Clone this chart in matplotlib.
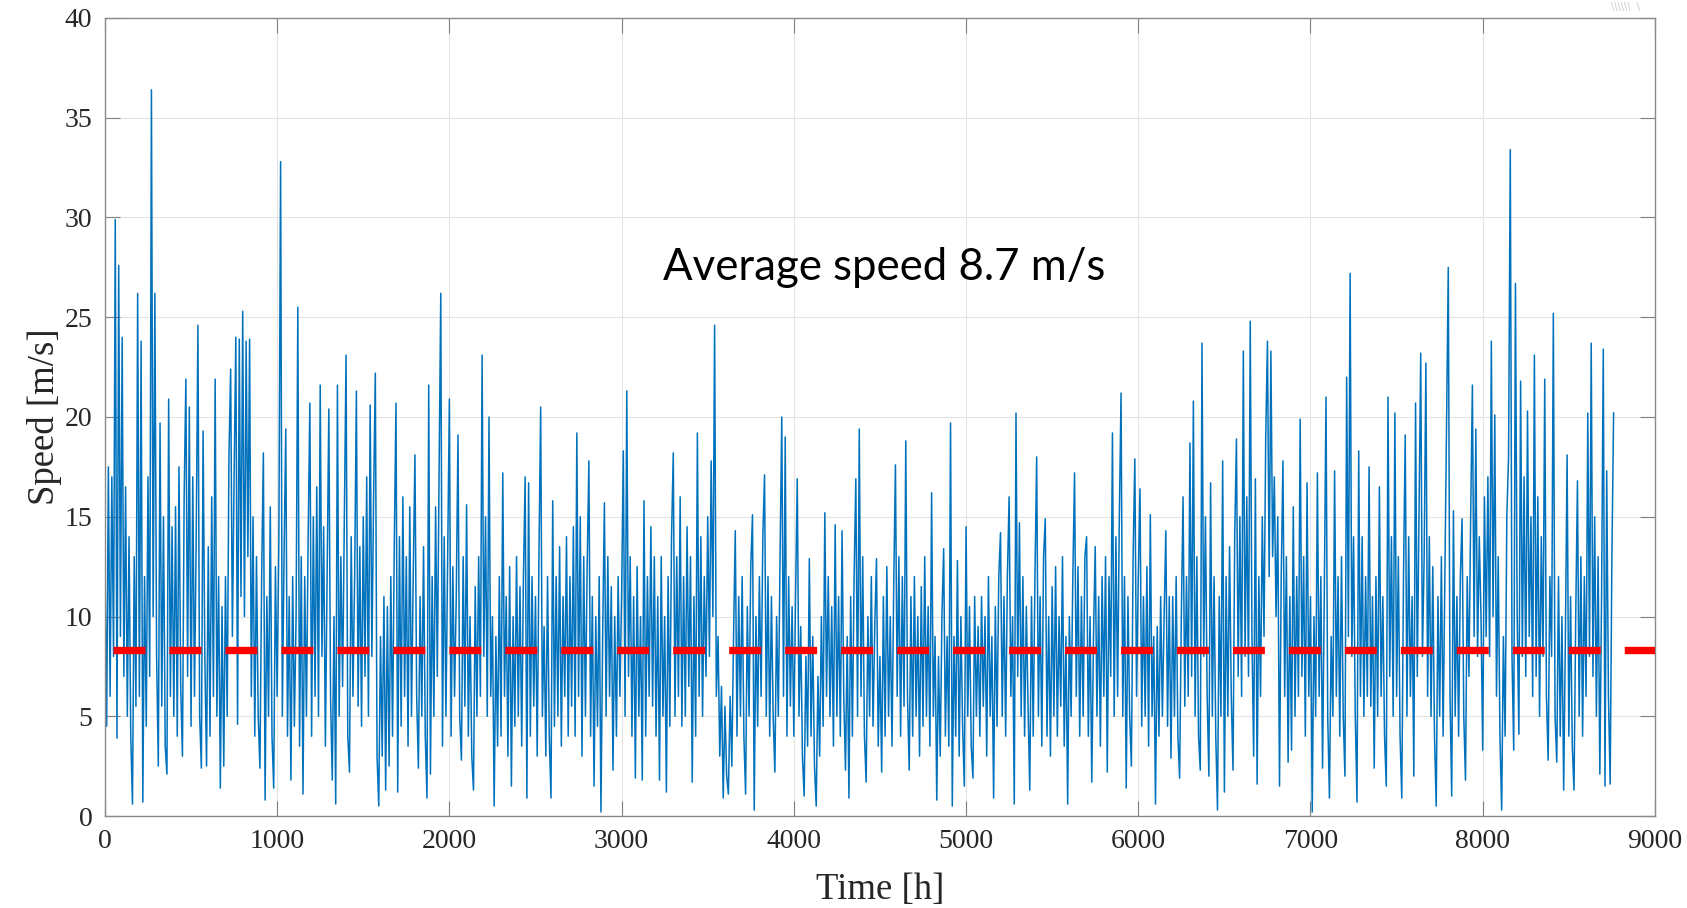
"""
Hourly wind speed over one year with the average shown as a dashed line.
Output: out.png
"""

import numpy as np
import matplotlib.pyplot as plt

plt.rcParams["lines.scale_dashes"] = False

# ── Data: wind speed [m/s], one reading every STEP_H hours ─────────────────────
STEP_H = 10
speed = [
    13.0, 4.5, 17.5, 6.0, 17.0, 8.0, 29.9, 3.9, 27.6, 9.0,      # 0
    24.0, 7.0, 16.5, 5.0, 14.0, 4.0, 0.6, 13.0, 5.5, 26.2,
    6.0, 23.8, 0.7, 12.0, 4.5, 17.0, 7.0, 36.4, 10.0, 26.2,
    8.0, 2.5, 19.7, 5.5, 15.0, 3.5, 2.1, 20.9, 6.0, 14.5,
    5.0, 15.5, 4.0, 17.5, 6.5, 3.0, 16.0, 21.9, 7.0, 20.5,
    4.5, 17.0, 6.0, 14.0, 24.6, 5.0, 2.4, 19.3, 8.0, 2.5,
    13.5, 4.0, 16.0, 6.0, 21.9, 5.0, 12.0, 1.4, 10.5, 2.5,
    12.0, 5.0, 18.0, 22.4, 9.0, 17.0, 24.0, 4.6, 23.9, 11.0,
    25.3, 10.0, 23.8, 13.0, 23.9, 6.0, 15.0, 4.0, 13.0, 5.0,
    2.4, 12.0, 18.2, 0.8, 11.0, 5.0, 15.5, 4.0, 1.4, 12.5,
    6.0, 14.0, 32.8, 5.0, 13.0, 19.4, 4.0, 11.0, 1.8, 12.0,     # 1000
    4.5, 10.0, 25.5, 3.5, 13.0, 1.1, 12.0, 5.0, 14.0, 20.7,
    4.0, 15.0, 6.0, 16.5, 5.0, 21.6, 8.0, 14.5, 3.5, 12.0,
    20.4, 6.0, 1.8, 10.0, 0.6, 21.6, 5.0, 13.0, 6.5, 15.0,
    23.1, 4.0, 2.2, 14.0, 6.0, 12.0, 21.3, 5.5, 13.5, 4.5,
    15.0, 7.0, 17.0, 5.0, 20.6, 8.0, 16.0, 22.2, 3.0, 0.5,
    9.0, 3.0, 11.0, 1.3, 10.5, 2.5, 12.0, 4.0, 13.5, 20.7,
    1.2, 14.0, 4.5, 16.0, 6.0, 13.0, 3.5, 15.5, 5.0, 12.0,
    18.1, 6.0, 2.4, 11.0, 5.0, 13.5, 4.0, 0.9, 21.6, 2.1,
    12.0, 5.0, 15.5, 7.0, 17.0, 26.2, 3.5, 14.0, 5.0, 13.0,
    20.9, 4.0, 12.5, 6.0, 11.0, 19.1, 5.0, 2.8, 13.0, 5.5,     # 2000
    15.6, 4.0, 10.0, 3.0, 1.3, 11.5, 5.0, 13.0, 6.0, 23.1,
    8.0, 15.0, 5.0, 20.0, 6.0, 10.0, 0.5, 9.0, 3.5, 12.0,
    4.0, 17.2, 6.0, 11.0, 3.0, 12.5, 1.5, 10.0, 4.5, 13.0,
    5.0, 11.5, 3.5, 12.0, 17.0, 0.9, 16.7, 4.0, 12.0, 5.5,
    11.0, 3.0, 13.0, 20.5, 5.0, 9.5, 3.0, 12.0, 4.0, 0.9,
    15.8, 4.5, 12.0, 5.0, 13.5, 3.5, 11.0, 6.0, 14.0, 4.0,
    12.0, 5.5, 14.5, 4.0, 19.2, 6.0, 15.0, 3.0, 13.0, 5.0,
    12.5, 17.8, 4.0, 11.0, 1.5, 10.0, 4.5, 12.0, 0.2, 9.0,
    15.7, 5.0, 13.0, 6.0, 11.5, 2.3, 10.0, 4.0, 12.0, 6.0,
    11.0, 18.3, 5.0, 21.3, 7.0, 13.0, 4.0, 11.0, 1.9, 12.5,    # 3000
    5.0, 10.0, 1.8, 15.8, 4.0, 12.0, 6.0, 14.5, 5.5, 13.0,
    4.0, 11.0, 1.8, 13.0, 5.0, 10.0, 1.2, 12.0, 4.5, 14.0,
    18.2, 5.0, 13.0, 6.0, 16.0, 4.5, 12.0, 5.0, 14.5, 6.5,
    13.0, 1.7, 11.0, 4.0, 19.2, 6.0, 14.0, 5.0, 12.0, 7.0,
    15.0, 8.0, 17.8, 10.0, 24.6, 6.0, 9.0, 3.0, 6.5, 0.9,
    5.5, 2.0, 1.1, 6.0, 2.5, 9.0, 14.3, 4.0, 11.0, 5.0,
    12.0, 4.0, 1.1, 10.5, 5.0, 12.5, 15.1, 0.3, 10.0, 4.5,
    12.0, 6.0, 14.0, 17.1, 5.0, 12.0, 4.0, 11.0, 5.0, 2.2,
    10.0, 5.0, 13.0, 20.0, 6.0, 19.0, 4.0, 12.0, 5.5, 10.5,
    4.0, 11.0, 16.9, 5.0, 9.5, 3.0, 1.0, 8.0, 3.5, 12.9,       # 4000
    4.0, 9.0, 2.5, 0.5, 7.0, 3.0, 10.0, 4.5, 15.2, 6.0,
    12.0, 5.0, 10.5, 3.5, 14.6, 5.0, 11.0, 4.0, 14.3, 6.0,
    2.3, 9.0, 0.9, 11.0, 4.0, 12.0, 16.9, 5.0, 19.4, 6.0,
    13.0, 4.0, 1.7, 10.0, 5.0, 12.0, 4.5, 9.5, 12.9, 3.5,
    8.0, 2.2, 11.0, 4.0, 12.5, 5.0, 10.0, 3.5, 11.5, 17.6,
    6.0, 13.0, 4.0, 12.0, 5.5, 18.8, 6.0, 2.3, 11.0, 4.0,
    12.0, 5.0, 10.0, 3.0, 11.5, 4.5, 13.0, 5.0, 10.5, 3.5,
    16.2, 5.0, 9.0, 0.8, 8.0, 3.0, 10.0, 13.4, 4.0, 9.0,
    3.5, 19.7, 0.5, 9.0, 4.0, 12.8, 3.0, 10.0, 4.5, 1.5,
    14.5, 5.0, 10.5, 3.5, 1.9, 11.0, 5.0, 9.5, 4.0, 11.0,      # 5000
    5.5, 10.0, 3.0, 12.0, 5.0, 9.0, 0.9, 10.5, 4.5, 12.0,
    14.2, 5.0, 11.0, 4.0, 12.0, 16.0, 6.0, 10.0, 0.6, 20.2,
    7.0, 14.7, 5.0, 12.0, 4.0, 10.5, 5.5, 1.3, 11.0, 4.0,
    12.0, 18.0, 5.0, 11.0, 3.5, 13.0, 14.9, 4.0, 10.0, 3.0,
    11.5, 5.0, 12.5, 4.0, 10.0, 5.5, 13.0, 3.5, 9.0, 0.6,
    10.0, 5.0, 12.0, 17.2, 6.0, 12.5, 4.0, 11.0, 5.0, 13.0,
    14.0, 4.0, 10.0, 1.7, 9.0, 13.5, 5.0, 11.0, 3.5, 12.0,
    6.0, 13.0, 2.2, 12.0, 7.0, 19.2, 5.0, 14.0, 6.0, 15.0,
    21.2, 5.0, 12.0, 1.4, 11.0, 5.0, 2.5, 13.0, 17.9, 6.0,
    12.0, 16.4, 4.5, 11.0, 5.0, 12.5, 3.5, 15.1, 5.0, 9.0,     # 6000
    0.6, 9.5, 4.0, 11.0, 5.0, 10.0, 14.3, 4.5, 11.0, 2.9,
    11.0, 5.0, 12.0, 4.0, 1.9, 10.0, 16.0, 5.5, 12.0, 6.0,
    18.7, 7.0, 20.8, 5.0, 13.0, 4.0, 2.3, 23.7, 8.0, 15.0,
    6.0, 2.0, 16.7, 5.0, 12.0, 4.0, 0.3, 11.0, 5.0, 17.8,
    1.2, 12.0, 5.0, 13.5, 6.0, 2.3, 14.0, 18.9, 7.0, 15.0,
    6.0, 23.3, 8.0, 16.0, 7.0, 24.8, 9.0, 3.0, 16.9, 1.6,
    12.0, 6.0, 15.0, 9.0, 19.0, 23.8, 12.0, 23.3, 13.0, 17.0,
    10.0, 15.0, 1.5, 12.0, 17.8, 6.0, 13.0, 2.7, 11.0, 3.3,
    15.5, 5.0, 12.0, 6.0, 19.9, 7.0, 13.0, 4.0, 16.7, 6.0,
    11.0, 0.2, 10.0, 5.0, 17.2, 6.0, 12.0, 2.4, 11.0, 21.0,    # 7000
    5.0, 0.9, 9.0, 5.0, 17.3, 6.0, 12.0, 4.0, 13.0, 5.0,
    2.0, 22.0, 9.0, 27.2, 8.0, 14.0, 5.0, 0.7, 18.3, 6.0,
    14.0, 5.0, 12.0, 6.0, 17.5, 5.5, 11.0, 2.4, 12.0, 5.0,
    16.5, 6.0, 11.0, 4.0, 1.5, 21.0, 7.0, 14.0, 5.0, 20.2,
    6.0, 13.0, 4.0, 0.9, 12.0, 19.1, 5.0, 14.0, 6.0, 11.0,
    2.0, 20.7, 7.0, 15.0, 23.2, 8.0, 13.0, 22.7, 6.0, 14.0,
    5.0, 12.5, 4.0, 0.5, 11.0, 5.0, 13.0, 4.0, 12.0, 20.5,
    27.5, 6.0, 1.0, 15.3, 5.0, 11.0, 4.0, 12.0, 14.9, 5.0,
    1.8, 12.0, 7.0, 15.0, 21.6, 9.0, 19.4, 8.0, 14.0, 10.0,
    3.3, 16.0, 9.0, 17.0, 8.0, 23.8, 10.0, 20.1, 6.0, 13.0,    # 8000
    4.0, 0.3, 9.0, 4.0, 15.0, 18.0, 33.4, 8.0, 3.3, 26.7,
    10.0, 4.1, 21.8, 8.0, 17.0, 7.0, 20.3, 9.0, 15.0, 6.0,
    23.1, 7.0, 16.0, 5.0, 14.0, 8.0, 21.9, 6.0, 2.8, 12.0,
    8.0, 25.2, 5.0, 2.7, 12.0, 4.0, 10.0, 1.3, 9.0, 18.1,
    4.0, 11.0, 3.5, 1.3, 10.0, 16.8, 5.0, 13.0, 4.0, 12.0,
    6.0, 20.2, 8.0, 23.7, 7.0, 15.0, 5.0, 13.0, 2.1, 11.0,
    23.4, 1.5, 17.3, 6.0, 1.6, 13.0, 20.2,
]
hours = np.arange(len(speed)) * STEP_H

AVG_LINE = 8.3                      # level of the red dashed line
AVG_LINE_START = 48                 # hour where the dashed line begins
AVG_TEXT = "Average speed 8.7 m/s"
AVG_TEXT_POS = (4525, 27.5)

X_TICKS = np.arange(0, 9001, 1000)
Y_TICKS = np.arange(0, 41, 5)

# ── Figure ─────────────────────────────────────────────────────────────────────
fig = plt.figure(figsize=(16.87, 9.08), dpi=100)
ax = fig.add_axes([0.0622, 0.1013, 0.9188, 0.8789])

ax.plot(hours, speed, color="#0072BD", linewidth=1.1, zorder=2)

dash_line, = ax.plot([AVG_LINE_START, X_TICKS[-1]], [AVG_LINE, AVG_LINE],
                     color="red", linewidth=5.3, solid_capstyle="butt",
                     dash_capstyle="butt", zorder=3)
dash_line.set_dashes([23.0, 17.3])

ax.text(*AVG_TEXT_POS, AVG_TEXT, fontsize=31.5, family="Lato",
        ha="center", va="center", color="black", zorder=4)

ax.set_xlim(X_TICKS[0], X_TICKS[-1])
ax.set_ylim(Y_TICKS[0], Y_TICKS[-1])
ax.set_xticks(X_TICKS)
ax.set_yticks(Y_TICKS)

serif = "Liberation Serif"
for lab in ax.get_xticklabels() + ax.get_yticklabels():
    lab.set_family(serif)
ax.tick_params(direction="in", length=10.8, width=0.8, colors="#7f7f7f",
               labelcolor="#262626", labelsize=20, top=True, right=True, pad=9)

ax.set_xlabel("Time [h]", family=serif, fontsize=26.5, color="#262626", labelpad=14)
ax.set_ylabel("Speed [m/s]", family=serif, fontsize=26.5, color="#262626", labelpad=2)

ax.grid(True, color="#e3e3e3", linewidth=0.8, zorder=0)
ax.set_axisbelow(True)
for sp in ax.spines.values():
    sp.set_color("#8a8a8a")
    sp.set_linewidth(1.0)

# faint hatch fragment at the top-right edge of the original image
fig.text(0.955, 0.998, "\\\\\\\\\\\\  \\", fontsize=7, color="#c8c8c8",
         ha="left", va="top")

fig.savefig("out.png", dpi=100, facecolor="white")
